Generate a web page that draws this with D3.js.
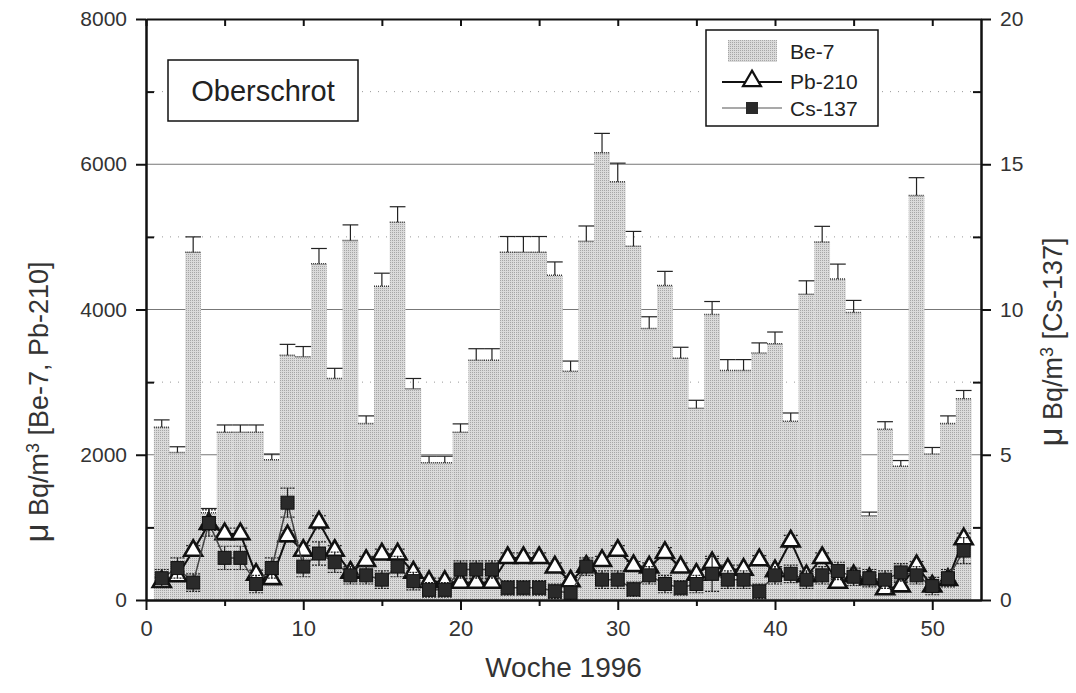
<!DOCTYPE html>
<html>
<head>
<meta charset="utf-8">
<script src="https://cdn.jsdelivr.net/npm/d3@7"></script>
<style>
  body { margin: 0; background: #fff; }
  svg text { font-family: "Liberation Sans", Arial, Helvetica, sans-serif; }
</style>
</head>
<body>
<svg id="chart" width="1076" height="693"></svg>
<script>
var weeks = [1,2,3,4,5,6,7,8,9,10,11,12,13,14,15,16,17,18,19,20,21,22,23,24,25,26,
             27,28,29,30,31,32,33,34,35,36,37,38,39,40,41,42,43,44,45,46,47,48,49,50,51,52];
var be7 = [2380,2030,4790,1200,2310,2310,2310,1930,3370,3350,4630,3050,4950,2430,4320,5200,2910,1890,1890,2310,
           3300,3300,4790,4790,4790,4470,3150,4940,6160,5760,4870,3740,4330,3330,2640,3930,3160,3160,3400,3530,
           2460,4210,4930,4420,3960,1160,2350,1840,5570,2010,2430,2770];
var be7Err = [100,80,210,60,100,100,100,80,150,140,210,140,215,105,180,215,140,90,90,115,
              160,160,215,215,215,185,140,210,265,255,205,160,195,150,110,180,150,150,140,160,
              115,185,215,205,165,50,105,80,245,90,105,115];
var pb210 = [250,330,680,1050,910,910,350,290,880,680,1070,680,380,540,630,630,380,250,250,240,
             240,240,580,580,580,450,260,460,540,680,470,450,650,450,350,510,420,420,550,400,
             810,330,580,240,330,290,150,190,470,190,280,840];
var pbErr = [60,60,70,90,80,80,60,60,80,70,90,70,60,60,70,70,60,50,50,50,
             50,50,70,70,70,60,50,60,60,70,60,60,70,60,60,60,60,60,60,60,
             80,60,70,50,60,50,40,50,60,50,50,80];
var cs137 = [0.75,1.1,0.6,2.65,1.45,1.45,0.55,1.1,3.35,1.15,1.6,1.3,0.85,0.85,0.7,1.15,0.65,0.35,0.35,1.05,
             1.05,1.05,0.42,0.42,0.42,0.3,0.25,1.15,0.7,0.7,0.37,0.85,0.55,0.42,0.55,0.9,0.7,0.7,0.3,0.85,
             0.9,0.7,0.85,1.0,0.8,0.75,0.7,0.95,0.85,0.48,0.75,1.7];
var csErr = [0.3,0.35,0.3,0.45,0.4,0.4,0.3,0.35,0.5,0.35,0.4,0.35,0.3,0.3,0.3,0.35,0.3,0.25,0.25,0.3,
             0.3,0.3,0.25,0.25,0.25,0.25,0.25,0.3,0.3,0.3,0.25,0.3,0.3,0.25,0.3,0.6,0.3,0.3,0.25,0.3,
             0.3,0.3,0.3,0.3,0.3,0.3,0.3,0.3,0.3,0.3,0.3,0.45];

var xTicks = [0,10,20,30,40,50], xMinor = [5,15,25,35,45];
var yTicks = [0,2000,4000,6000,8000], yMinor = [1000,3000,5000,7000];
var rTicks = [0,5,10,15,20], rMinor = [2.5,7.5,12.5,17.5];

var svg = d3.select("#chart");
var pL = 146, pR = 981, pT = 19, pB = 600;

var x = d3.scaleLinear().domain([0, 53.1]).range([pL, pR]);
var yL = d3.scaleLinear().domain([0, 8000]).range([pB, pT]);
var yR = d3.scaleLinear().domain([0, 20]).range([pB, pT]);

// stipple pattern for Be-7
var pat = svg.append("defs").append("pattern")
    .attr("id", "stip").attr("width", 2).attr("height", 2)
    .attr("patternUnits", "userSpaceOnUse");
pat.append("rect").attr("width", 2).attr("height", 2).attr("fill", "#dadada");
pat.append("rect").attr("width", 1).attr("height", 1).attr("fill", "#a6a6a6");

// grid
svg.append("g").selectAll("line").data([2000, 4000, 6000]).enter().append("line")
    .attr("x1", pL).attr("x2", pR)
    .attr("y1", function (d) { return yL(d); }).attr("y2", function (d) { return yL(d); })
    .style("stroke", "#777").style("stroke-width", 1);
svg.append("g").selectAll("line").data(yMinor).enter().append("line")
    .attr("x1", pL).attr("x2", pR)
    .attr("y1", function (d) { return yL(d); }).attr("y2", function (d) { return yL(d); })
    .style("stroke", "#999").style("stroke-width", 1).style("stroke-dasharray", "1,7");

// Be-7 bars
var bars = svg.append("g");
weeks.forEach(function (w, i) {
    var x0 = x(w - 0.5), x1 = x(w + 0.5);
    bars.append("rect")
        .attr("x", x0).attr("y", yL(be7[i]))
        .attr("width", x1 - x0).attr("height", yL(0) - yL(be7[i]))
        .attr("fill", "url(#stip)");
});
weeks.forEach(function (w, i) {
    var x0 = x(w - 0.5), x1 = x(w + 0.5), xc = x(w);
    bars.append("line").attr("x1", x0).attr("x2", x1)
        .attr("y1", yL(be7[i])).attr("y2", yL(be7[i]))
        .style("stroke", "#333").style("stroke-width", 1.5).style("stroke-dasharray", "1,1");
    bars.append("line").attr("x1", xc).attr("x2", xc)
        .attr("y1", yL(be7[i])).attr("y2", yL(be7[i] + be7Err[i]))
        .style("stroke", "#222").style("stroke-width", 1.2);
    bars.append("line").attr("x1", x0).attr("x2", x1)
        .attr("y1", yL(be7[i] + be7Err[i])).attr("y2", yL(be7[i] + be7Err[i]))
        .style("stroke", "#222").style("stroke-width", 1.2);
});

function errBars(g, vals, errs, scale) {
    weeks.forEach(function (w, i) {
        var xc = x(w);
        g.append("line").attr("x1", xc).attr("x2", xc)
            .attr("y1", scale(Math.max(0, vals[i] - errs[i]))).attr("y2", scale(vals[i] + errs[i]))
            .style("stroke", "#222").style("stroke-width", 1.2);
        [vals[i] - errs[i], vals[i] + errs[i]].forEach(function (v) {
            if (v < 0) return;
            g.append("line").attr("x1", xc - 7).attr("x2", xc + 7)
                .attr("y1", scale(v)).attr("y2", scale(v))
                .style("stroke", "#222").style("stroke-width", 1.2).style("stroke-dasharray", "2,1");
        });
    });
}

// Pb-210
var pbG = svg.append("g");
errBars(pbG, pb210, pbErr, yL);
var linePb = d3.line().x(function (d, i) { return x(weeks[i]); }).y(function (d) { return yL(d); });
pbG.append("path").datum(pb210).attr("d", linePb)
    .style("fill", "none").style("stroke", "#111").style("stroke-width", 2);
var tri = d3.symbol().type(d3.symbolTriangle).size(140);
pbG.selectAll("path.tri").data(pb210).enter().append("path").attr("class", "tri")
    .attr("d", tri)
    .attr("transform", function (d, i) { return "translate(" + x(weeks[i]) + "," + yL(d) + ")"; })
    .style("fill", "#fff").style("stroke", "#111").style("stroke-width", 2.6);

// Cs-137
var csG = svg.append("g");
errBars(csG, cs137, csErr, yR);
var lineCs = d3.line().x(function (d, i) { return x(weeks[i]); }).y(function (d) { return yR(d); });
csG.append("path").datum(cs137).attr("d", lineCs)
    .style("fill", "none").style("stroke", "#444").style("stroke-width", 1.5);
csG.selectAll("rect.sq").data(cs137).enter().append("rect").attr("class", "sq")
    .attr("x", function (d, i) { return x(weeks[i]) - 6.5; })
    .attr("y", function (d) { return yR(d) - 6.5; })
    .attr("width", 13).attr("height", 13)
    .style("fill", "#2a2a2a").style("stroke", "#111").style("stroke-width", 1);

// axes
function styleAxis(g, fs) {
    g.select(".domain").style("stroke", "#111").style("stroke-width", 2);
    g.selectAll(".tick line").style("stroke", "#111").style("stroke-width", 2);
    g.selectAll(".tick text").style("font-size", fs + "px").style("fill", "#333");
}
var fmt = d3.format("d");
var gx = svg.append("g").attr("transform", "translate(0," + pB + ")")
    .call(d3.axisBottom(x).tickValues(xTicks).tickFormat(fmt).tickSize(10).tickPadding(10).tickSizeOuter(0));
styleAxis(gx, 22);
var gxm = svg.append("g").attr("transform", "translate(0," + pB + ")")
    .call(d3.axisBottom(x).tickValues(xMinor).tickSize(6).tickFormat("").tickSizeOuter(0));
styleAxis(gxm, 22);
var gt = svg.append("g").attr("transform", "translate(0," + pT + ")")
    .call(d3.axisBottom(x).tickValues(xTicks.concat(xMinor)).tickSize(7).tickFormat("").tickSizeOuter(0));
styleAxis(gt, 22);

var gy = svg.append("g").attr("transform", "translate(" + pL + ",0)")
    .call(d3.axisLeft(yL).tickValues(yTicks).tickFormat(fmt).tickSize(10).tickPadding(9).tickSizeOuter(0));
styleAxis(gy, 21);
var gym = svg.append("g").attr("transform", "translate(" + pL + ",0)")
    .call(d3.axisRight(yL).tickValues(yMinor).tickSize(8).tickFormat("").tickSizeOuter(0));
styleAxis(gym, 21);

var gr = svg.append("g").attr("transform", "translate(" + pR + ",0)")
    .call(d3.axisRight(yR).tickValues(rTicks).tickFormat(fmt).tickSize(10).tickPadding(9).tickSizeOuter(0));
styleAxis(gr, 21);
var grm = svg.append("g").attr("transform", "translate(" + pR + ",0)")
    .call(d3.axisLeft(yR).tickValues(rMinor).tickSize(8).tickFormat("").tickSizeOuter(0));
styleAxis(grm, 21);

// axis titles
svg.append("text").attr("x", (pL + pR) / 2).attr("y", 677)
    .attr("text-anchor", "middle").style("font-size", "28px").style("fill", "#333")
    .text("Woche 1996");
function unitLabel(tx, ty, tail) {
    var t = svg.append("text").attr("text-anchor", "middle")
        .attr("transform", "translate(" + tx + "," + ty + ")rotate(-90)")
        .style("font-size", "27px").style("fill", "#333");
    t.append("tspan").style("font-size", "33px").text("\u03bc");
    t.append("tspan").text(" Bq/m");
    t.append("tspan").attr("dy", -9).style("font-size", "18px").text("3");
    t.append("tspan").attr("dy", 9).text(tail);
}
unitLabel(48, 402, " [Be-7, Pb-210]");
unitLabel(1062, 342, " [Cs-137]");

// station box
svg.append("rect").attr("x", 168).attr("y", 60).attr("width", 190).attr("height", 61)
    .style("fill", "#fff").style("stroke", "#111").style("stroke-width", 1.5);
svg.append("text").attr("x", 263).attr("y", 101).attr("text-anchor", "middle")
    .style("font-size", "29px").style("fill", "#222").text("Oberschrot");

// legend
var lg = svg.append("g");
lg.append("rect").attr("x", 706).attr("y", 30).attr("width", 172).attr("height", 96)
    .style("fill", "#fff").style("stroke", "#111").style("stroke-width", 1.5);
lg.append("rect").attr("x", 728).attr("y", 40).attr("width", 49).attr("height", 22)
    .attr("fill", "url(#stip)");
lg.append("text").attr("x", 790).attr("y", 59).style("font-size", "21px").style("fill", "#222").text("Be-7");
lg.append("line").attr("x1", 722).attr("x2", 782).attr("y1", 82).attr("y2", 82)
    .style("stroke", "#111").style("stroke-width", 2);
lg.append("path").attr("d", tri).attr("transform", "translate(752,81)")
    .style("fill", "#fff").style("stroke", "#111").style("stroke-width", 2.2);
lg.append("text").attr("x", 790).attr("y", 89).style("font-size", "21px").style("fill", "#222").text("Pb-210");
lg.append("line").attr("x1", 722).attr("x2", 782).attr("y1", 108).attr("y2", 108)
    .style("stroke", "#555").style("stroke-width", 1.2);
lg.append("rect").attr("x", 746).attr("y", 102).attr("width", 12).attr("height", 12)
    .style("fill", "#2a2a2a");
lg.append("text").attr("x", 790).attr("y", 116).style("font-size", "21px").style("fill", "#222").text("Cs-137");
</script>
</body>
</html>
